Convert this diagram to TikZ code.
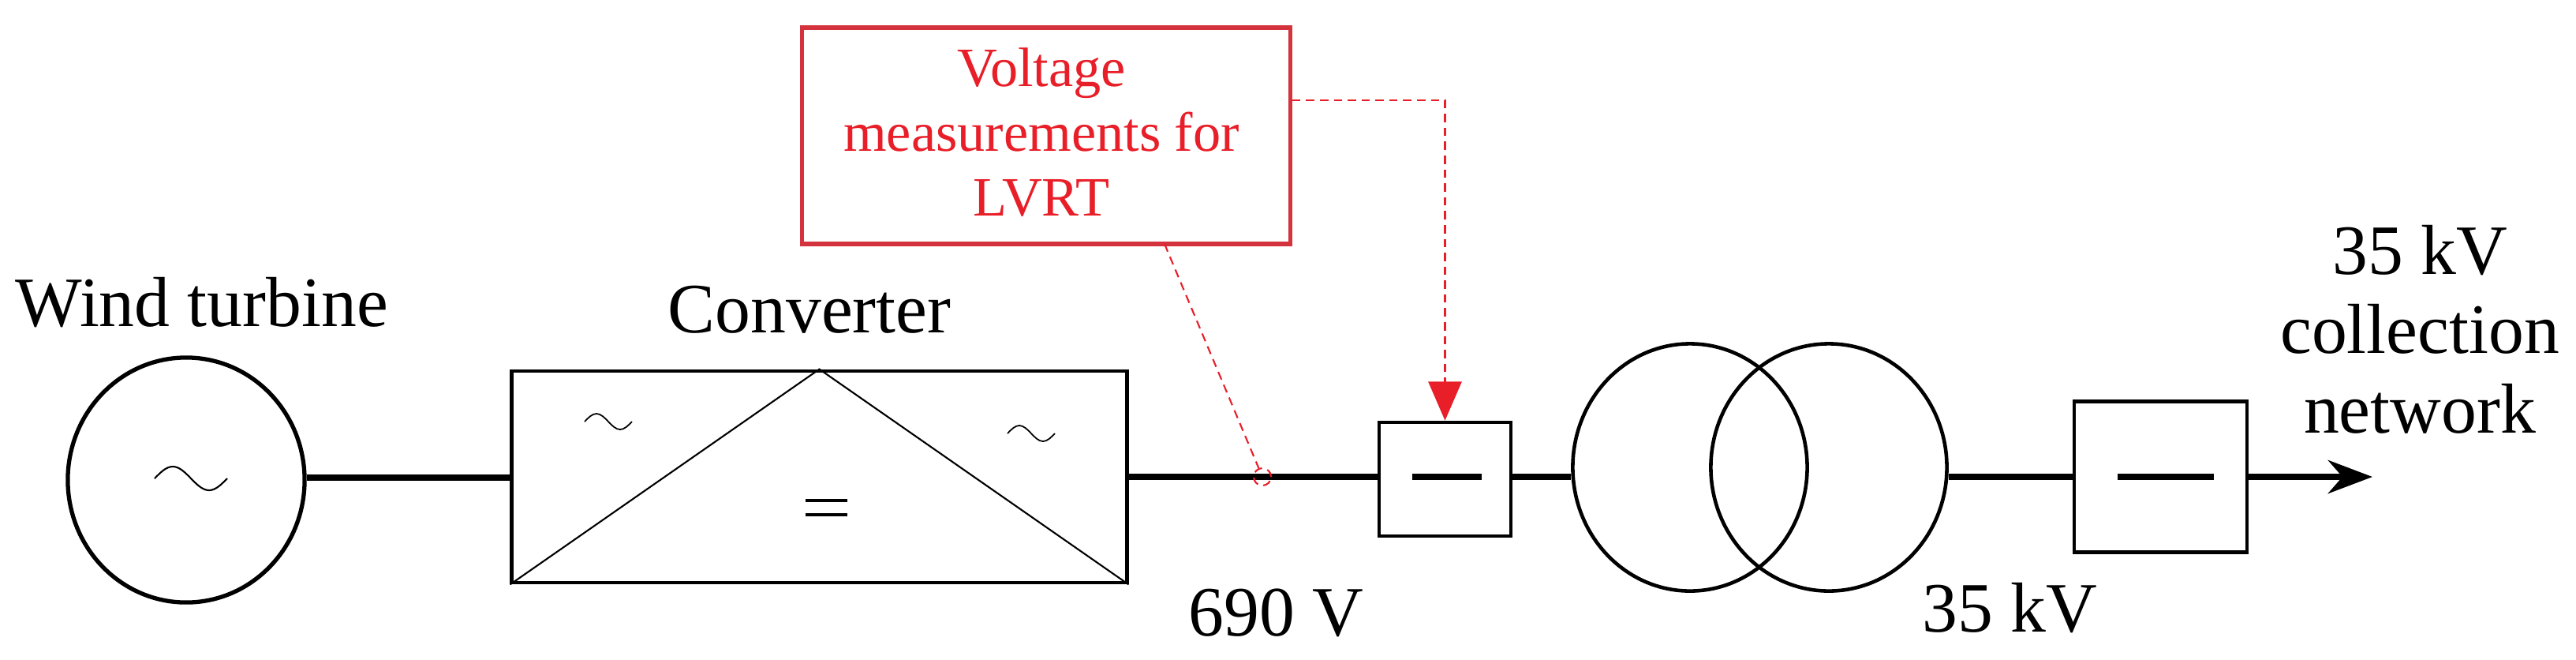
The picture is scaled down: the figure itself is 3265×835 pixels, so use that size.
\documentclass[tikz,border=0pt]{standalone}
\usepackage{fontspec}
\setmainfont{Liberation Serif}
\usetikzlibrary{shapes.geometric,arrows.meta}
\definecolor{boxred}{RGB}{212,50,60}
\definecolor{txtred}{RGB}{232,30,40}
\begin{document}
\begin{tikzpicture}[x=0.01cm,y=-0.01cm,
  lbl/.style={font=\fontsize{25.5}{28.5}\selectfont,align=center,inner sep=0,anchor=base},
  wire/.style={line width=2.1pt},
  box/.style={draw,line width=1.3pt,inner sep=0,rectangle},
  circ/.style={draw,line width=1.3pt,ellipse,inner sep=0},
  redd/.style={txtred,line width=0.6pt,dash pattern=on 3pt off 2pt}]
\useasboundingbox (0,0) rectangle (3265,835);
% generator
\node[circ,line width=1.5pt,minimum width=3cm,minimum height=3.1cm] (gen) at (236,608) {};
\draw[line width=0.6pt] (196,606) sin (219,591) cos (242,606) sin (265,621) cos (288,606);
\node[lbl] (lwt) at (256,413) {Wind turbine};
% converter
\node[box,minimum width=7.79cm,minimum height=2.68cm] (conv) at (1038.5,604) {};
\draw[line width=0.6pt] (conv.south west) -- (conv.north) -- (conv.south east);
\draw[line width=0.5pt] (741,534) sin (756,524) cos (771,534) sin (786,544) cos (801,534);
\draw[line width=0.5pt] (1277,549) sin (1292,539) cos (1307,549) sin (1322,559) cos (1337,549);
\draw[line width=1pt] (1021,634) -- (1074,634);
\draw[line width=1pt] (1021,652) -- (1074,652);
\node[lbl] (lconv) at (1026,421) {Converter};
% breaker 1
\node[box,minimum width=1.67cm,minimum height=1.44cm] (b1) at (1831.5,607) {};
\draw[wire] (1790,604) -- (1878,604);
% transformer
\node[circ,minimum width=2.97cm,minimum height=3.13cm] (t1) at (2142,592) {};
\node[circ,minimum width=2.99cm,minimum height=3.13cm] (t2) at (2318,592) {};
% breaker 2
\node[box,minimum width=2.19cm,minimum height=1.91cm] (b2) at (2738.5,604) {};
\draw[wire] (2684,604) -- (2806,604);
\coordinate (out) at (3007,604);
% wires
\draw[wire] (gen.east |- 0,605) -- (conv.west |- 0,605);
\coordinate (meas) at (1600,604);
\draw[wire] (conv.east |- 0,604) -- (b1.west |- 0,604);
\draw[wire] (b1.east |- 0,604) -- (t1.west |- 0,604);
\draw[wire] (t2.east |- 0,604) -- (b2.west |- 0,604);
\draw[wire,-{Stealth[length=16pt,width=12pt]}] (b2.east |- 0,604) -- (out);
% labels
\node[lbl,anchor=base east] (l690) at (1729,805) {690 V};
\node[lbl,anchor=base west] (l35) at (2436,800) {35 kV};
\node[lbl] (lnet) at (3067,548) {35 kV\\collection\\network};
% measurement box
\node[draw=boxred,line width=1.5pt,minimum width=6.18cm,minimum height=2.74cm,inner sep=0] (mbox) at (1326,172) {};
\node[txtred,font=\fontsize{20}{23.3}\selectfont,align=center,inner sep=0,anchor=base] (mtxt) at (1320,273) {Voltage\\measurements for\\LVRT};
\node[draw=txtred,circle,redd,minimum size=0.22cm,inner sep=0] (mc) at (meas) {};
\draw[redd] (1476,309) -- (mc);
\draw[redd,-{Triangle[length=14pt,width=12pt]}] (mbox.east |- 0,127) -| (b1.north);
\end{tikzpicture}
\end{document}
